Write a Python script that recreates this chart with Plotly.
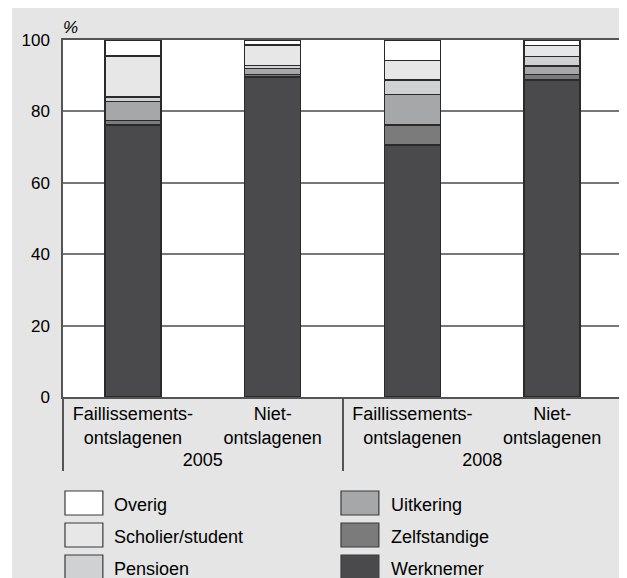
import plotly.graph_objects as go

# ---- data ----
years = ["2005", "2005", "2008", "2008"]
groups = ["Faillissements-<br>ontslagenen", "Niet-<br>ontslagenen",
          "Faillissements-<br>ontslagenen", "Niet-<br>ontslagenen"]

werknemer = [76.2, 89.7, 70.6, 88.8]
zelfstandige = [1.3, 0.7, 5.6, 1.6]
uitkering = [5.3, 1.6, 8.5, 2.3]
pensioen = [1.3, 0.9, 4.1, 2.7]
scholier = [11.4, 5.7, 5.4, 3.0]
overig = [4.5, 1.4, 5.8, 1.6]

series_names = ["Werknemer", "Zelfstandige", "Uitkering", "Pensioen", "Scholier/student", "Overig"]
series_values = [werknemer, zelfstandige, uitkering, pensioen, scholier, overig]
series_colors = ["#4a4a4c", "#7b7b7c", "#a6a7a8", "#d0d1d2", "#e7e7e7", "#ffffff"]

y_ticks = [0, 20, 40, 60, 80, 100]

# legend arrangement (two columns)
legend_col1 = ["Overig", "Scholier/student", "Pensioen"]
legend_col2 = ["Uitkering", "Zelfstandige", "Werknemer"]

FONT = "Liberation Sans, Arial, Helvetica, sans-serif"
OFF = 8  # page body margin
W, H = 627 - OFF, 578 - OFF
# plot area in page pixels
PL, PR, PT, PB = 63, 624, 40, 397
L, R, T, B = PL - OFF, W - (PR - OFF), PT - OFF, H - (PB - OFF)
PW, PH = PR - PL, PB - PT


def px(xp):  # page x -> paper
    return (xp - PL) / PW


def py(yp):  # page y -> paper
    return (PB - yp) / PH


fig = go.Figure()
for name, vals, col in zip(series_names, series_values, series_colors):
    fig.add_trace(go.Bar(
        x=[years, groups], y=vals, name=name,
        marker=dict(color=col, line=dict(color="#2a2a2a", width=1.5)),
        width=0.4, showlegend=False,
    ))

shapes = [
    # white strip left of the grey panel
    dict(type="rect", xref="paper", yref="paper", x0=px(OFF - 1), x1=px(12), y0=py(OFF + H + 2), y1=py(OFF - 1),
         fillcolor="white", line=dict(width=0), layer="below"),
]
annotations = [
    dict(text="<i>%</i>", xref="paper", yref="paper", x=px(70.5), y=py(28),
         xanchor="center", yanchor="middle",
         showarrow=False, font=dict(size=17, family=FONT, color="black")),
]

color_of = dict(zip(series_names, series_colors))
box_w, box_h = 38, 24
row_tops = [491, 523, 555]
for col_items, bx, tx in [(legend_col1, 65, 112), (legend_col2, 342, 390)]:
    for name, top in zip(col_items, row_tops):
        shapes.append(dict(type="rect", xref="paper", yref="paper",
                           x0=px(bx), x1=px(bx + box_w), y0=py(top + box_h), y1=py(top),
                           fillcolor=color_of[name], line=dict(color="#3a3a3a", width=1.2)))
        annotations.append(dict(text=name, xref="paper", yref="paper",
                                x=px(tx), y=py(top + box_h / 2 + 1.5), xanchor="left", yanchor="middle",
                                showarrow=False, font=dict(size=18, family=FONT, color="black")))

fig.update_layout(
    width=W, height=H,
    margin=dict(l=L, r=R, t=T, b=B),
    barmode="stack",
    paper_bgcolor="#e4e5e4",
    plot_bgcolor="white",
    font=dict(family=FONT, size=17, color="black"),
    shapes=shapes,
    annotations=annotations,
    xaxis=dict(
        type="multicategory",
        showline=True, linecolor="#555", linewidth=1.5, mirror=True,
        showgrid=False, ticks="",
        showdividers=True, dividercolor="#555", dividerwidth=1.5,
        tickfont=dict(size=18, family=FONT, color="black"),
    ),
    yaxis=dict(
        range=[0, 100], tickvals=y_ticks,
        showline=True, linecolor="#555", linewidth=1.5, mirror=True,
        showgrid=True, gridcolor="#777", gridwidth=1.5,
        zeroline=False, ticks="", ticklabelstandoff=8,
        tickfont=dict(size=17, family=FONT, color="black"),
    ),
)

fig.write_html("out.html")
